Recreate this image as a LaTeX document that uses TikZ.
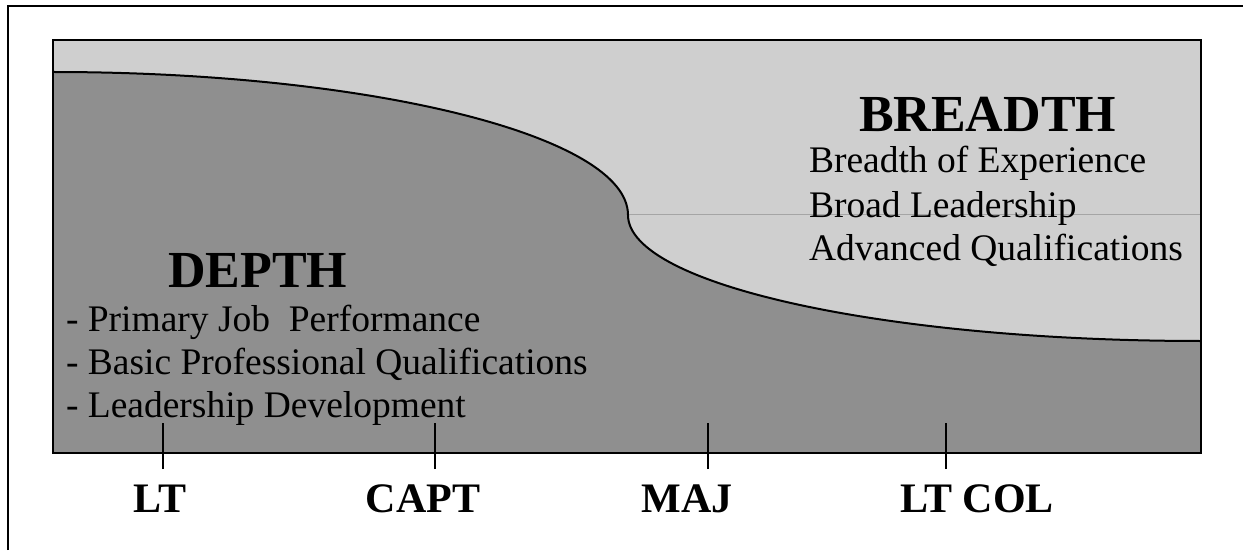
\documentclass[tikz,border=0pt]{standalone}
\usepackage{fontspec}
\setmainfont{Liberation Serif}
\definecolor{breadthgray}{RGB}{207,207,207}
\definecolor{depthgray}{RGB}{143,143,143}
\definecolor{splitgray}{RGB}{165,165,165}
\newcommand{\itemsize}{\fontsize{37.5}{43}\selectfont}
\newcommand{\headsize}{\fontsize{52}{60}\selectfont\bfseries}
\newcommand{\ranksize}{\fontsize{42}{48}\selectfont\bfseries}

\begin{document}
\begin{tikzpicture}[x=1pt, y=1pt, line width=2pt,
  heading/.style={anchor=base west, font=\headsize, inner sep=0pt},
  item/.style={anchor=base west, font=\itemsize, inner sep=0pt},
  rank/.style={anchor=base, font=\ranksize, inner sep=0pt}]
\useasboundingbox (0,0) rectangle (1243,550);

% page frame
\draw (8,0) -- (8,544) -- (1243,544);

% breadth band fills the box, depth area sits below the curve
\fill[breadthgray] (53,97) rectangle (1201,510);
\fill[depthgray] (53,478) arc[start angle=90, end angle=0, x radius=575, y radius=143]
  arc[start angle=180, end angle=270, x radius=573, y radius=126]
  -- (1201,97) -- (53,97) -- cycle;
\draw[splitgray, line width=1pt] (628,335) -- (1201,335);
\draw (53,478) arc[start angle=90, end angle=0, x radius=575, y radius=143]
  arc[start angle=180, end angle=270, x radius=573, y radius=126];
\draw (53,97) rectangle (1201,510);

% rank ticks
\foreach \x in {163,435,708,946}
  \draw (\x,81) -- (\x,127);

% breadth text
\node[heading] (breadth) at (858,418) {BREADTH};
\node[item] (experience) at (808,377) {Breadth of Experience};
\node[item] (leadership) at (808,333) {Broad Leadership};
\node[item] (advanced) at (808,290) {Advanced Qualifications};

% depth text
\node[heading] (depth) at (167,263) {DEPTH};
\node[item] (performance) at (65,219) {- Primary Job~ Performance};
\node[item] (basic) at (65,176) {- Basic Professional Qualifications};
\node[item] (development) at (65,133) {- Leadership Development};

% ranks
\node[rank] (lt) at (160,38) {LT};
\node[rank] (capt) at (423,38) {CAPT};
\node[rank] (maj) at (687,38) {MAJ};
\node[rank] (ltcol) at (977,38) {LT COL};
\end{tikzpicture}
\end{document}
